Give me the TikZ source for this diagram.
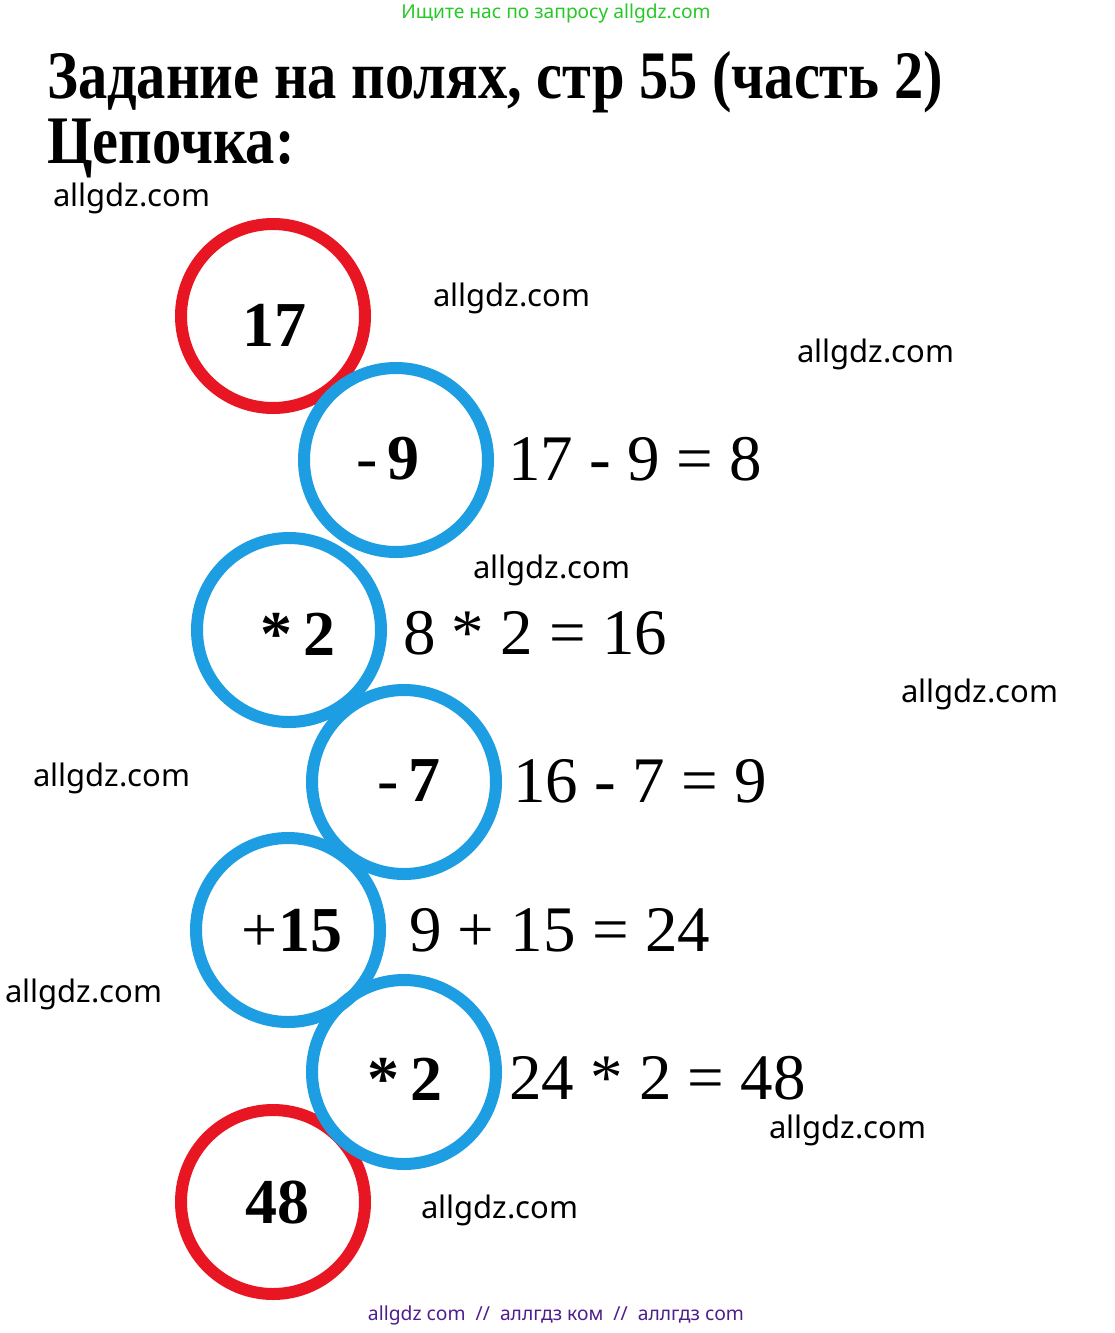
\documentclass[tikz,border=0pt]{standalone}
\usepackage{fontspec}
\setmainfont{Liberation Serif}
\newfontfamily\wmfont{Noto Sans}
\definecolor{ringred}{RGB}{232,22,34}
\definecolor{ringblue}{RGB}{30,158,226}
\definecolor{hdrgreen}{RGB}{40,200,40}
\definecolor{ftrpurple}{RGB}{80,30,140}
\tikzset{
  ring/.style={circle, draw, line width=12pt, minimum size=184pt, inner sep=0pt},
  redring/.style={ring, draw=ringred},
  bluering/.style={ring, draw=ringblue},
  optext/.style={inner sep=0pt, font=\fontsize{64}{70}\selectfont\bfseries},
  eqtext/.style={inner sep=0pt, anchor=west, font=\fontsize{65}{68}\selectfont},
  wmark/.style={inner sep=0pt, anchor=base west, font=\wmfont\fontsize{31}{34}\selectfont},
  titletext/.style={inner sep=0pt, anchor=base west, xscale=0.86, font=\fontsize{68}{72}\selectfont\bfseries}
}
\begin{document}
\begin{tikzpicture}[x=1pt,y=-1pt]
\useasboundingbox[fill=white] (0,0) rectangle (1114,1333);
% header
\node[inner sep=0pt, text=hdrgreen, font=\wmfont\fontsize{19.2}{21}\selectfont] (hdr) at (556,14) {Ищите нас по запросу allgdz.com};
\node[titletext] (t1) at (47,98) {Задание на полях, стр 55 (часть 2)};
\node[titletext] (t2) at (47,163) {Цепочка:};
% rings
\node[redring] (c1) at (273,316) {};
\node[redring] (c7) at (273,1202) {};
\node[bluering] (c2) at (396,460) {};
\node[bluering] (c3) at (289,630) {};
\node[bluering] (c4) at (404,782) {};
\node[bluering] (c5) at (288,930) {};
\node[bluering] (c6) at (404,1072) {};
% ring texts
\node[optext] (o1) at (274,325) {17};
\node[optext] (o2) at (388,459) {{\mdseries -\,}9};
\node[optext] (o3) at (298,634) {*\,2};
\node[optext] (o4) at (409,781) {{\mdseries -\,}7};
\node[optext] (o5) at (292,931) {{\mdseries +}15};
\node[optext] (o6) at (405,1079) {*\,2};
\node[optext] (o7) at (277,1203) {48};
% equations
\node[eqtext] (e2) at (508,459) {17 - 9 = 8};
\node[eqtext] (e3) at (403,633) {8 * 2 = 16};
\node[eqtext] (e4) at (513,781) {16 - 7 = 9};
\node[eqtext] (e5) at (409,930) {9 + 15 = 24};
\node[eqtext] (e6) at (509,1078) {24 * 2 = 48};
% watermarks
\node[wmark] (w1) at (53,206) {allgdz.com};
\node[wmark] (w2) at (433,306) {allgdz.com};
\node[wmark] (w3) at (797,362) {allgdz.com};
\node[wmark] (w4) at (473,578) {allgdz.com};
\node[wmark] (w5) at (901,702) {allgdz.com};
\node[wmark] (w6) at (33,786) {allgdz.com};
\node[wmark] (w7) at (5,1002) {allgdz.com};
\node[wmark] (w8) at (769,1138) {allgdz.com};
\node[wmark] (w9) at (421,1218) {allgdz.com};
% footer
\node[inner sep=0pt, text=ftrpurple, font=\wmfont\fontsize{19.3}{21}\selectfont] (ftr) at (556,1315) {allgdz com\ \ //\ \ аллгдз ком\ \ //\ \ аллгдз com};
\end{tikzpicture}
\end{document}
